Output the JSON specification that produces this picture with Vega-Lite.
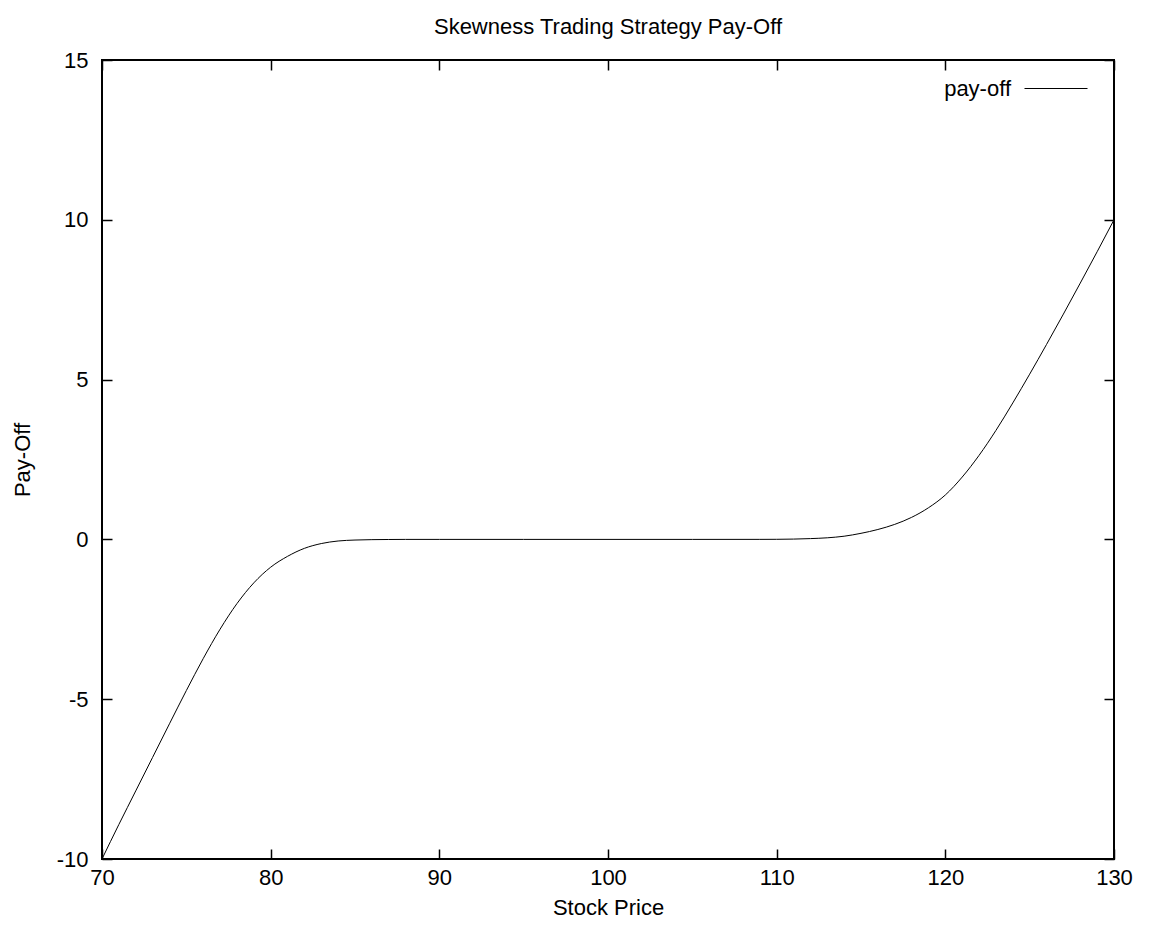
{
  "$schema": "https://vega.github.io/schema/vega-lite/v6.json",
  "width": 1012,
  "height": 799,
  "autosize": "none",
  "padding": {"left": 102, "top": 60, "right": 40, "bottom": 83},
  "background": "white",
  "config": {
    "font": "Liberation Sans",
    "view": {"stroke": "black", "strokeWidth": 2},
    "axis": {
      "domain": false,
      "grid": false,
      "tickColor": "black",
      "tickSize": -10,
      "tickWidth": 1.5,
      "labelFont": "Liberation Sans",
      "labelFontSize": 22,
      "labelColor": "black",
      "labelFlush": false,
      "labelExpr": "datum.value + ''",
      "titleFont": "Liberation Sans",
      "titleFontSize": 22,
      "titleFontWeight": "normal",
      "titleColor": "black"
    }
  },
  "title": {
    "text": "Skewness Trading Strategy Pay-Off",
    "font": "Liberation Sans",
    "fontSize": 22,
    "fontWeight": "normal",
    "color": "black",
    "anchor": "middle",
    "offset": 10
  },
  "data": {
    "values": [
      {"price": 70, "payoff": -10},
      {"price": 71, "payoff": -8.92},
      {"price": 72, "payoff": -7.87},
      {"price": 73, "payoff": -6.82},
      {"price": 74, "payoff": -5.77},
      {"price": 75, "payoff": -4.73},
      {"price": 76, "payoff": -3.73},
      {"price": 77, "payoff": -2.81},
      {"price": 78, "payoff": -2.01},
      {"price": 79, "payoff": -1.36},
      {"price": 80, "payoff": -0.87},
      {"price": 81, "payoff": -0.53},
      {"price": 82, "payoff": -0.28},
      {"price": 83, "payoff": -0.13},
      {"price": 84, "payoff": -0.05},
      {"price": 85, "payoff": -0.02},
      {"price": 86, "payoff": -0.008},
      {"price": 87, "payoff": -0.003},
      {"price": 88, "payoff": 0},
      {"price": 90, "payoff": 0},
      {"price": 95, "payoff": 0},
      {"price": 100, "payoff": 0},
      {"price": 105, "payoff": 0},
      {"price": 109, "payoff": 0.001},
      {"price": 110, "payoff": 0.003},
      {"price": 111, "payoff": 0.01},
      {"price": 112, "payoff": 0.025},
      {"price": 113, "payoff": 0.05},
      {"price": 114, "payoff": 0.1},
      {"price": 115, "payoff": 0.19},
      {"price": 116, "payoff": 0.31},
      {"price": 117, "payoff": 0.47},
      {"price": 118, "payoff": 0.69},
      {"price": 119, "payoff": 0.99},
      {"price": 120, "payoff": 1.39},
      {"price": 121, "payoff": 1.95},
      {"price": 122, "payoff": 2.63},
      {"price": 123, "payoff": 3.41},
      {"price": 124, "payoff": 4.27},
      {"price": 125, "payoff": 5.17},
      {"price": 126, "payoff": 6.1},
      {"price": 127, "payoff": 7.05},
      {"price": 128, "payoff": 8.02},
      {"price": 129, "payoff": 9.0},
      {"price": 130, "payoff": 10}
    ]
  },
  "layer": [
    {
      "mark": {"type": "line", "strokeWidth": 1, "interpolate": "monotone"},
      "encoding": {
        "x": {
          "field": "price", "type": "quantitative",
          "scale": {"domain": [70, 130], "nice": false, "zero": false},
          "axis": {"orient": "bottom", "values": [70, 80, 90, 100, 110, 120, 130], "title": "Stock Price", "labelPadding": 18, "titlePadding": 9}
        },
        "y": {
          "field": "payoff", "type": "quantitative",
          "scale": {"domain": [-10, 15], "nice": false, "zero": false},
          "axis": {"orient": "left", "values": [-10, -5, 0, 5, 10, 15], "title": "Pay-Off", "labelPadding": 24, "titlePadding": 22}
        },
        "stroke": {
          "datum": "pay-off", "type": "nominal",
          "scale": {"range": ["black"]},
          "legend": {
            "title": null,
            "orient": "none",
            "legendX": 922,
            "legendY": -3.5,
            "padding": 0,
            "symbolType": "stroke",
            "symbolSize": 3969,
            "symbolStrokeWidth": 1,
            "symbolStrokeColor": "black",
            "labelFont": "Liberation Sans",
            "labelFontSize": 22,
            "labelColor": "black",
            "labelAlign": "right",
            "labelOffset": -77
          }
        }
      }
    },
    {
      "mark": {"type": "line", "opacity": 0},
      "encoding": {
        "x": {
          "field": "price", "type": "quantitative",
          "scale": {"domain": [70, 130], "nice": false, "zero": false},
          "axis": {"orient": "top", "values": [70, 80, 90, 100, 110, 120, 130], "title": null, "labels": false}
        },
        "y": {
          "field": "payoff", "type": "quantitative",
          "scale": {"domain": [-10, 15], "nice": false, "zero": false},
          "axis": {"orient": "right", "values": [-10, -5, 0, 5, 10, 15], "title": null, "labels": false}
        }
      }
    }
  ],
  "resolve": {"axis": {"x": "independent", "y": "independent"}}
}
